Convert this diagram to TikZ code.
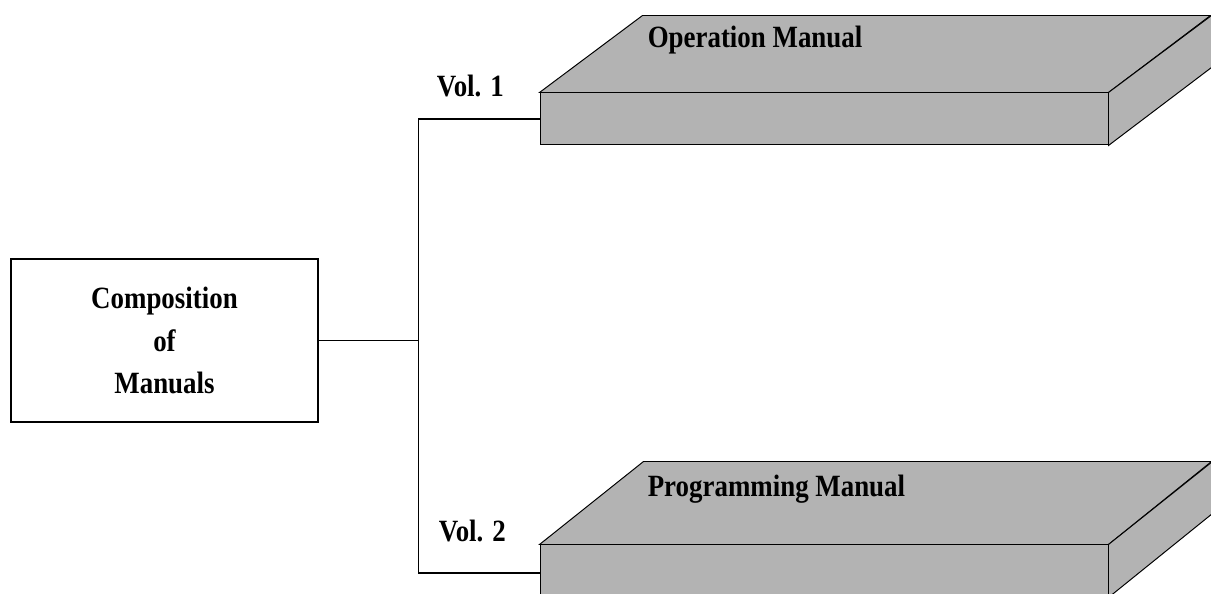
\documentclass[tikz,border=0pt]{standalone}
\usepackage{fontspec}
\setmainfont{Liberation Serif}
\newfontfamily\slimserif{Liberation Serif}[FakeStretch=0.87]
\usetikzlibrary{positioning}

\definecolor{slabgray}{RGB}{179,179,179}

\begin{document}
\begin{tikzpicture}[ booktext/.style={font={\slimserif\fontsize{22}{30.2}\selectfont\bfseries}, inner sep=0pt},
    joinline/.style={line width=0.75pt},
    slab/.style={draw,line width=0.7pt,fill=slabgray,minimum width=14.2cm,
        minimum height=1.3cm,inner sep=0pt},
    face/.style={draw,line width=0.7pt,fill=slabgray,line join=miter}]
\useasboundingbox (0,0) rectangle (30.275,14.85);
\begin{scope}
\clip (0,0) rectangle (30.275,14.85);

\node[draw,joinline,minimum width=7.675cm,minimum height=4.075cm,align=center,
    booktext] (comp) at (4.1125,6.3375) {Composition\\of\\Manuals};

\node[slab] (opbox) at (20.6,11.875) {};
\draw[face] (opbox.north west) -- ++(2.575,1.925) -- ++(14.2,0) -- (opbox.north east) -- cycle;
\draw[face] (opbox.north east) -- ++(2.575,1.925) -- ++(0,-1.3) -- (opbox.south east) -- cycle;

\node[slab] (prbox) at (20.6,0.575) {};
\draw[face] (prbox.north west) -- ++(2.6,2.075) -- ++(14.2,0) -- (prbox.north east) -- cycle;
\draw[face] (prbox.north east) -- ++(2.6,2.075) -- ++(0,-1.3) -- (prbox.south east) -- cycle;

\node[booktext,anchor=base west] (oplabel) at ([shift={(2.7,1.125)}]opbox.north west) {Operation Manual};
\node[booktext,anchor=base west] (prlabel) at ([shift={(2.7,1.2)}]prbox.north west) {Programming Manual};

\node[booktext,anchor=base west] (vol1) at ([shift={(-2.575,-0.1)}]opbox.north west) {Vol. 1};
\node[booktext,anchor=base west] (vol2) at ([shift={(-2.525,0.075)}]prbox.north west) {Vol. 2};

\coordinate (jn) at (comp.east -| 10.4625,0);
\draw[joinline] (comp.east) -- (jn);
\draw[joinline] (opbox.west) -| (jn) |- ([yshift=-0.05cm]prbox.west);
\end{scope}
\end{tikzpicture}
\end{document}
